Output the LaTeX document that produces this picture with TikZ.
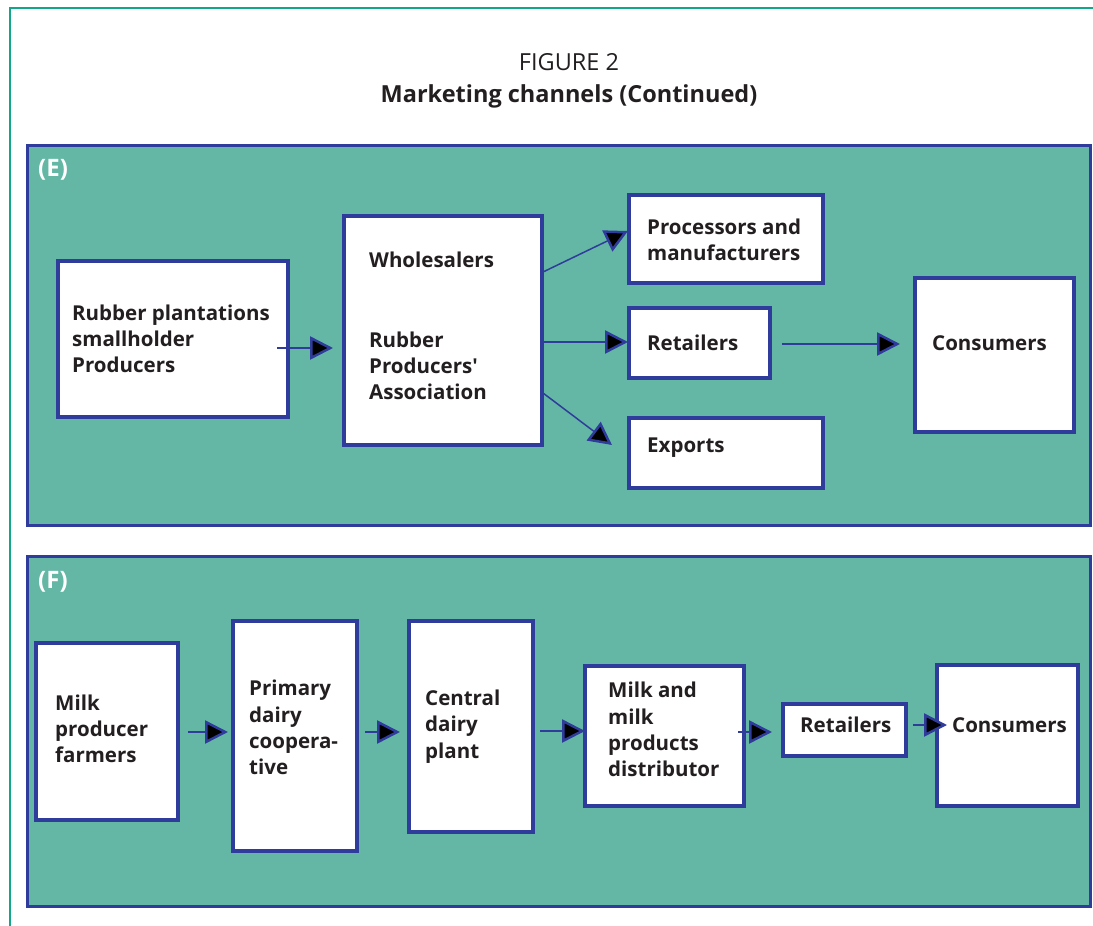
\documentclass[tikz,border=0pt]{standalone}
\usepackage{fontspec}
\setmainfont{Open Sans}
\usetikzlibrary{arrows.meta}
\definecolor{frame}{HTML}{12A68B}
\definecolor{panel}{HTML}{64B7A5}
\definecolor{navy}{HTML}{2F3C9B}
\definecolor{ink}{HTML}{231F20}
\begin{document}
\begin{tikzpicture}[x=1pt,y=-1pt,
  box/.style={draw=navy, line width=4pt, fill=white, outer sep=0pt, inner sep=0pt},
  panelbox/.style={draw=navy, line width=3pt, fill=panel},
  lbl/.style={font=\bfseries\fontsize{20.5}{26.3}\selectfont, text=ink, align=left, inner sep=0pt, anchor=west},
  tag/.style={font=\bfseries\fontsize{24}{28}\selectfont, text=white, inner sep=0pt, anchor=west},
  arr/.style={draw=navy, line width=1.5pt, -{Triangle[length=23pt 0, width=23pt 0, fill=black, line width=2.5pt 0]}}]
\useasboundingbox (0,0) rectangle (1093,926);
% outer frame
\draw[frame, line width=2.5pt] (1093,8) -- (10,8) -- (10,926);
% title
\node[font=\fontsize{23.5}{28}\selectfont, text=ink, inner sep=0pt] (title1) at (569,62) {FIGURE 2};
\node[font=\bfseries\fontsize{23.5}{28}\selectfont, text=ink, inner sep=0pt] (title2) at (569,96) {Marketing channels (Continued)};
% panels
\draw[panelbox] (27,145) rectangle (1090,525);
\draw[panelbox] (27,556) rectangle (1090,906);
\node[tag] (tagE) at (38,170) {(E)};
\node[tag] (tagF) at (38,582) {(F)};
% panel E boxes
\node[box, minimum width=230, minimum height=156] (b1) at (173,339) {};
\node[box, minimum width=198, minimum height=229] (b2) at (443,330.5) {};
\node[box, minimum width=194, minimum height=88] (b3) at (726,239) {};
\node[box, minimum width=141, minimum height=70] (b4) at (699.5,343) {};
\node[box, minimum width=194, minimum height=70] (b5) at (726,453) {};
\node[box, minimum width=159, minimum height=154] (b6) at (994.5,355) {};
\node[lbl] (t1) at (72,339) {Rubber plantations\\smallholder\\Producers};
\node[lbl] (t2a) at (369,260) {Wholesalers};
\node[lbl] (t2b) at (369,366) {Rubber\\Producers\textquotesingle\\Association};
\node[lbl] (t3) at (647,239.5) {Processors and\\manufacturers};
\node[lbl] (t4) at (647,343) {Retailers};
\node[lbl] (t5) at (647,448) {Exports};
\node[lbl] (t6) at (932,343) {Consumers};
% panel E arrows
\draw[arr] ([shift={(-11,9)}]b1.east) -- ([shift={(-11,17.5)}]b2.west);
\draw[arr] ([shift={(1,-58.5)}]b2.east) -- ([shift={(-1,-8)}]b3.west);
\draw[arr] ([shift={(1,11.5)}]b2.east) -- ([shift={(-1,-1)}]b4.west);
\draw[arr] ([shift={(1,62.5)}]b2.east) -- ([shift={(-17,-8)}]b5.west);
\draw[arr] ([shift={(12,1)}]b4.east) -- ([shift={(-15,-11)}]b6.west);
% panel F boxes
\node[box, minimum width=142, minimum height=177] (f1) at (107,731.5) {};
\node[box, minimum width=124, minimum height=230] (f2) at (295,736) {};
\node[box, minimum width=124, minimum height=211] (f3) at (471,726.5) {};
\node[box, minimum width=159, minimum height=140] (f4) at (664.5,736) {};
\node[box, minimum width=123, minimum height=52] (f5) at (844.5,730) {};
\node[box, minimum width=141, minimum height=141] (f6) at (1007.5,735.5) {};
\node[lbl] (u1) at (55,729) {Milk\\producer\\farmers};
\node[lbl] (u2) at (249,727.5) {Primary\\dairy\\coopera-\\tive};
\node[lbl] (u3) at (425,726.5) {Central\\dairy\\plant};
\node[lbl] (u4) at (608,729.5) {Milk and\\milk\\products\\distributor};
\node[lbl] (u5) at (800,725) {Retailers};
\node[lbl] (u6) at (952,725) {Consumers};
% panel F arrows
\draw[arr] ([shift={(10,0.5)}]f1.east) -- ([shift={(-5,-4)}]f2.west);
\draw[arr] ([shift={(8,-4)}]f2.east) -- ([shift={(-9,5.5)}]f3.west);
\draw[arr] ([shift={(7,4.5)}]f3.east) -- ([shift={(0,-5)}]f4.west);
\draw[arr] ([shift={(-6,-4)}]f4.east) -- ([shift={(-11,2)}]f5.west);
\draw[arr] ([shift={(7,-5)}]f5.east) -- ([shift={(10,-10.5)}]f6.west);
\end{tikzpicture}
\end{document}
